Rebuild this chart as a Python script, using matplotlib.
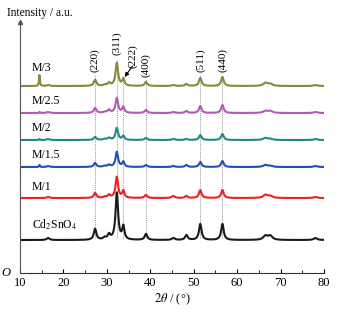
import numpy as np
import matplotlib
matplotlib.use("Agg")
import matplotlib.pyplot as plt

plt.rcParams["font.family"] = ["Liberation Serif", "DejaVu Serif"]
plt.rcParams["mathtext.fontset"] = "stix"

# --- data (intensity in arbitrary units, offset stacked) ---
samples = ["Cd$_2$SnO$_4$", "M/1", "M/1.5", "M/2", "M/2.5", "M/3"]
colors = ["#1a1a1a", "#e8231f", "#2150b4", "#23878a", "#b159b6", "#87883a"]
baselines = [33, 75, 106, 133, 160, 187]

# peak positions (2θ) and widths (HWHM)
peak_pos = [14.5, 16.5, 27.3, 29.5, 30.5, 32.3, 33.8, 39.0, 45.3, 48.3, 51.5, 56.6, 66.5, 67.6, 78.0]
peak_w = [0.12, 0.4, 0.35, 0.4, 0.35, 0.35, 0.3, 0.35, 0.4, 0.35, 0.35, 0.35, 0.6, 0.6, 0.5]
# heights per sample, same order as peak_pos
heights = {
    "Cd$_2$SnO$_4$": [0, 2, 11, 2, 5, 47, 13, 6, 2, 5, 16, 16, 4, 4, 2],
    "M/1":           [0, 1, 5, 1, 3, 21, 7, 3, 2, 2, 8, 8, 3, 2, 1],
    "M/1.5":         [2, 1, 4, 1, 2, 15, 5, 2, 1, 2, 5, 6, 2, 1, 1],
    "M/2":           [1, 1, 3, 1, 2, 12, 4, 2, 1, 1, 5, 6, 2, 1, 1],
    "M/2.5":         [1, 1, 5, 1, 3, 15, 6, 3, 1, 2, 7, 8, 2, 2, 1],
    "M/3":           [11, 1, 6, 1, 3, 23, 7, 4, 1, 2, 8, 9, 3, 2, 1],
}
label_y = [48, 86, 118, 145, 172, 205]

# reflections marked by dotted lines: position, hkl, label bottom
hkl_pos = [27.3, 32.3, 39.0, 51.5, 56.6]
hkl_txt = ["(220)", "(311)", "(400)", "(511)", "(440)"]
hkl_bottom = [201, 218, 196, 201, 201]
dot_pos = [27.3, 32.3, 33.8, 39.0, 51.5, 56.6]
dot_top = [198, 214, 194, 194, 198, 198]

x = np.linspace(10, 80, 1600)

fig = plt.figure(figsize=(3.43, 3.19), dpi=100)
ax = fig.add_axes([0.058, 0.144, 0.887, 0.787])

for name, col, base in zip(samples, colors, baselines):
    y = np.full_like(x, base, dtype=float)
    for c, w, h in zip(peak_pos, peak_w, heights[name]):
        y += h / (1 + ((x - c) / w) ** 2)
    ax.plot(x, y, color=col, lw=1.5)

for name, ly in zip(samples, label_y):
    ax.text(12.8, ly, name, fontsize=8.5, va="center", ha="left")

for p, t in zip(dot_pos, dot_top):
    ax.plot([p, p], [35, t], color="#999999", ls=(0, (1, 1)), lw=0.7, zorder=0)

for p, t, b in zip(hkl_pos, hkl_txt, hkl_bottom):
    ax.text(p, b, t, rotation=90, fontsize=8, ha="center", va="bottom")

ax.text(36.0, 205, "(222)", rotation=90, fontsize=8, ha="center", va="bottom")
ax.annotate("", xy=(34.1, 196), xytext=(35.9, 207),
            arrowprops=dict(arrowstyle="-|>", color="black", lw=0.8,
                            mutation_scale=6, shrinkA=0, shrinkB=0))

ax.set_xlim(10, 80)
ax.set_ylim(0, 251)
ax.set_xticks(range(10, 81, 10))
ax.set_xticks(range(15, 80, 10), minor=True)
ax.set_yticks([])
ax.tick_params(axis="x", direction="in", length=3, width=0.8, labelsize=9, pad=3)
ax.tick_params(axis="x", which="minor", direction="in", length=2, width=0.6)
for s in ("top", "right"):
    ax.spines[s].set_visible(False)
ax.spines["left"].set_color("#555555")
ax.spines["bottom"].set_color("#333333")
ax.plot(0, 1, "^", color="#555555", ms=3, transform=ax.transAxes, clip_on=False)

ax.text(-0.045, 0.0, "O", transform=ax.transAxes, fontsize=9, style="italic",
        ha="center", va="center")
fig.text(0.02, 0.958, "Intensity / a.u.", fontsize=8.3, ha="left", va="center")
ax.set_xlabel(r"$2\theta$ / (°)", fontsize=9, labelpad=2)

fig.savefig("out.png", dpi=100)
